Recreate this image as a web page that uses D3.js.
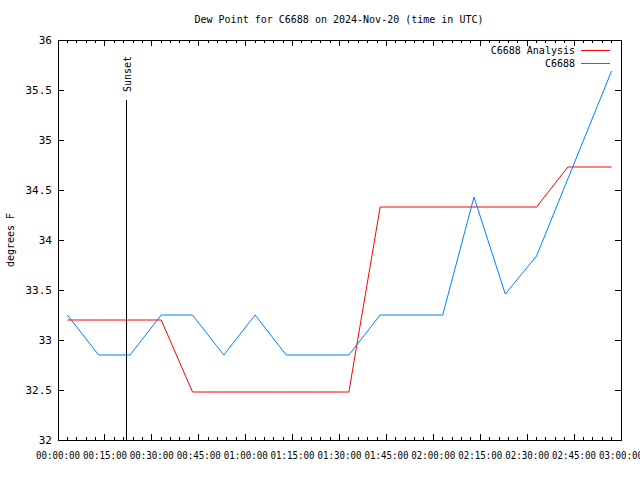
<!DOCTYPE html>
<html>
<head>
<meta charset="utf-8">
<script src="https://cdn.jsdelivr.net/npm/d3@7"></script>
<style>
  body { margin: 0; background: #fff; }
  text { font-family: "DejaVu Sans Mono", monospace; fill: #000; }
</style>
</head>
<body>
<svg id="viz"></svg>
<script>
// minutes after 00:00 UTC, 2024-11-20
const obsTimes = [3, 13, 23, 33, 43, 53, 63, 73, 83, 93, 103, 113, 123, 133, 143, 153, 177];
const obsValues = [33.25, 32.85, 32.85, 33.25, 33.25, 32.85, 33.25, 32.85, 32.85, 32.85, 33.25, 33.25, 33.25, 34.43, 33.46, 33.84, 35.69];
const anaTimes = [3, 13, 23, 33, 43, 53, 63, 73, 83, 93, 103, 113, 123, 133, 143, 153, 163, 173, 177];
const anaValues = [33.2, 33.2, 33.2, 33.2, 32.48, 32.48, 32.48, 32.48, 32.48, 32.48, 34.33, 34.33, 34.33, 34.33, 34.33, 34.33, 34.73, 34.73, 34.73];
const sunsetMinute = 22;
const sunsetTop = 35.4;
const yTicks = [32, 32.5, 33, 33.5, 34, 34.5, 35, 35.5, 36];
const seriesNames = ["C6688 Analysis", "C6688"];
const seriesColors = ["#ff0000", "#0080ff"];

const app = {
    init() {
        const base = Date.UTC(2024, 10, 20, 0, 0, 0);
        const toDate = m => new Date(base + m * 60000);
        const obs = obsTimes.map((t, i) => ({ t: toDate(t), v: obsValues[i] }));
        const ana = anaTimes.map((t, i) => ({ t: toDate(t), v: anaValues[i] }));
        this.createGraph(obs, ana, toDate);
    },

    createGraph(obs, ana, toDate) {
        const width = 640, height = 480;
        const left = 58, right = 621, top = 40, bottom = 440;

        const svg = d3.select("#viz").attr("width", width).attr("height", height);

        const x = d3.scaleUtc().domain([toDate(0), toDate(180)]).range([left, right]);
        const y = d3.scaleLinear().domain([32, 36]).range([bottom, top]);

        // ticks
        const major = d3.utcMinute.every(15).range(toDate(0), toDate(181));
        const minor = d3.utcMinute.every(3).range(toDate(0), toDate(181));
        const fmt = d3.utcFormat("%H:%M:%S");

        const g = svg.append("g").attr("stroke", "#000").attr("stroke-width", 1).attr("shape-rendering", "crispEdges");
        minor.forEach(d => {
            const len = (d.getUTCMinutes() % 15 === 0) ? 6 : 3;
            g.append("line").attr("x1", x(d)).attr("x2", x(d)).attr("y1", bottom).attr("y2", bottom - len);
            g.append("line").attr("x1", x(d)).attr("x2", x(d)).attr("y1", top).attr("y2", top + len);
        });
        yTicks.forEach(v => {
            g.append("line").attr("x1", left).attr("x2", left + 6).attr("y1", y(v)).attr("y2", y(v));
            g.append("line").attr("x1", right).attr("x2", right - 6).attr("y1", y(v)).attr("y2", y(v));
        });

        svg.append("g").selectAll("text").data(major).enter().append("text")
            .attr("x", d => x(d)).attr("y", 459).attr("text-anchor", "middle")
            .attr("textLength", 44).attr("lengthAdjust", "spacingAndGlyphs")
            .style("font-size", "10px").text(d => fmt(d));
        svg.append("g").selectAll("text").data(yTicks).enter().append("text")
            .attr("x", 52).attr("y", d => y(d) + 4).attr("text-anchor", "end")
            .style("font-size", "11px").text(d => d);

        // sunset marker
        svg.append("line").attr("x1", x(toDate(sunsetMinute))).attr("x2", x(toDate(sunsetMinute)))
            .attr("y1", bottom).attr("y2", y(sunsetTop)).attr("stroke", "#000").attr("shape-rendering", "crispEdges");
        svg.append("text").attr("transform", `translate(${x(toDate(sunsetMinute)) + 4}, ${y(sunsetTop) - 8}) rotate(-90)`)
            .style("font-size", "10px").text("Sunset");

        // series
        const line = d3.line().x(d => x(d.t)).y(d => y(d.v));
        svg.append("path").datum(ana).attr("d", line).attr("fill", "none").attr("stroke", seriesColors[0]).attr("stroke-width", 1);
        svg.append("path").datum(obs).attr("d", line).attr("fill", "none").attr("stroke", seriesColors[1]).attr("stroke-width", 1);

        // frame
        svg.append("rect").attr("x", left).attr("y", top).attr("width", right - left).attr("height", bottom - top)
            .attr("fill", "none").attr("stroke", "#000").attr("shape-rendering", "crispEdges");

        // legend
        seriesNames.forEach((name, i) => {
            const ly = 50 + i * 13;
            svg.append("text").attr("x", 575).attr("y", ly + 4).attr("text-anchor", "end").style("font-size", "10px").text(name);
            svg.append("line").attr("x1", 581).attr("x2", 610).attr("y1", ly).attr("y2", ly)
                .attr("stroke", seriesColors[i]).attr("shape-rendering", "crispEdges");
        });

        // titles
        svg.append("text").attr("x", 339).attr("y", 23).attr("text-anchor", "middle").style("font-size", "10px")
            .text("Dew Point for C6688 on 2024-Nov-20 (time in UTC)");
        svg.append("text").attr("transform", "rotate(-90)").attr("x", -240).attr("y", 14).attr("text-anchor", "middle")
            .style("font-size", "10px").text("degrees F");
    }
}

window.addEventListener("DOMContentLoaded", () => app.init())
</script>
</body>
</html>
